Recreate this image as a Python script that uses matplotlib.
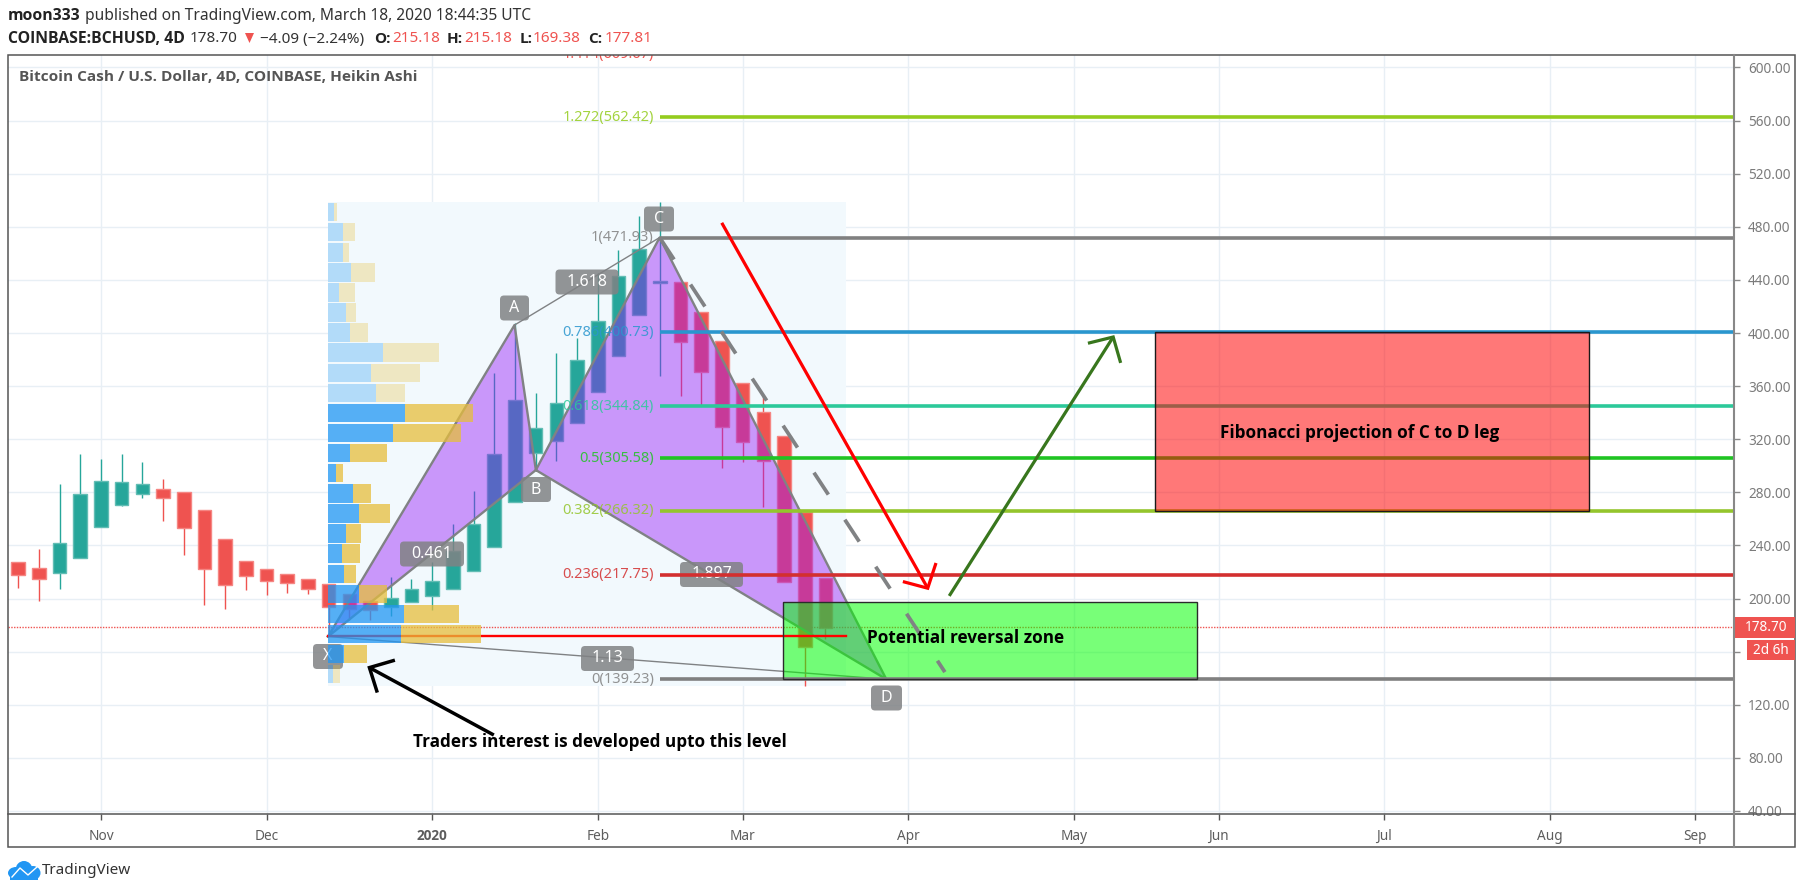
import matplotlib
matplotlib.use("Agg")
import matplotlib.pyplot as plt
from matplotlib.patches import FancyBboxPatch, Rectangle, Polygon, Ellipse

plt.rcParams['font.family'] = ['Noto Sans', 'DejaVu Sans']
BOLD = ['Open Sans', 'DejaVu Sans']

# heikin ashi candles, 4D bars
opens = [227.8, 223.1, 219.0, 230.4, 253.9, 270.8, 278.4, 282.8, 279.9, 266.6,
         245.0, 228.1, 222.4, 218.7, 214.6, 210.9, 203.6, 197.9, 194.0, 197.1,
         201.8, 207.0, 220.8, 238.8, 272.6, 309.5, 319.0, 332.0, 355.9, 382.6,
         413.8, 438.0, 438.8, 416.0, 393.9, 362.2, 340.5, 322.6, 265.4, 215.2]
closes = [217.9, 214.8, 242.2, 278.9, 288.5, 287.5, 286.4, 275.5, 253.1, 221.9,
          210.4, 216.9, 213.3, 211.4, 207.3, 193.5, 192.2, 191.4, 200.8, 207.0,
          213.0, 236.2, 256.5, 308.6, 349.7, 328.4, 347.3, 380.0, 409.3, 443.3,
          463.2, 439.3, 392.9, 371.0, 329.4, 318.0, 303.9, 212.4, 163.3, 177.8]
highs = [227.8, 237.5, 286.4, 308.6, 305.4, 309.1, 302.6, 290.3, 279.9, 266.6,
         245.0, 228.1, 222.4, 218.7, 214.6, 210.9, 203.6, 199.0, 216.6, 214.8,
         227.8, 256.5, 281.2, 369.8, 407.5, 354.8, 385.0, 396.4, 445.0, 462.5,
         488.0, 498.5, 438.8, 416.0, 393.9, 362.2, 352.3, 322.6, 265.4, 215.2]
lows = [208.3, 198.4, 207.5, 230.4, 253.9, 269.8, 275.5, 258.6, 233.0, 195.3,
        192.2, 206.5, 202.6, 204.4, 203.6, 171.9, 183.6, 183.6, 187.0, 197.1,
        191.4, 207.0, 220.8, 238.8, 272.6, 297.0, 303.9, 332.0, 355.9, 382.6,
        413.8, 367.5, 352.3, 346.0, 298.1, 303.2, 269.2, 212.4, 134.0, 169.4]

# volume profile rows
vp_prices = [491.1, 476.0, 460.8, 445.7, 430.6, 415.4, 400.3, 385.2, 370.0, 354.9, 339.8, 324.6,
             309.5, 294.4, 279.2, 264.1, 249.0, 233.8, 218.7, 203.6, 188.4, 173.3, 158.2, 143.0]
vp_buy = [0.27, 0.71, 0.71, 1.10, 0.52, 0.85, 1.05, 2.64, 2.06, 2.30, 3.70, 3.12,
          1.05, 0.37, 1.19, 1.48, 0.85, 0.66, 0.76, 1.48, 3.66, 3.51, 0.76, 0.23]
vp_sell = [0.18, 0.61, 0.29, 1.19, 0.76, 0.52, 0.90, 2.74, 2.40, 1.43, 3.29, 3.32,
           1.79, 0.37, 0.90, 1.53, 0.76, 0.90, 0.61, 1.38, 2.69, 3.86, 1.10, 0.37]
vp_active = [False] * 10 + [True] * 13 + [False]

# XABCD pattern points (bar index, price)
pat_x = [14.97, 23.98, 25.01, 30.99, 41.94]
pat_y = [171.4, 406.0, 296.8, 471.93, 139.23]

# fib levels
fib_levels = [0, 0.236, 0.382, 0.5, 0.618, 0.786, 1, 1.272]
fib_prices = [139.23, 217.75, 266.32, 305.58, 344.84, 400.73, 471.93, 562.42]
fib_colors = ['#808080', '#D32F2F', '#94C52C', '#20C423', '#2CC99A', '#2A96CE', '#808080', '#94CC1E']

month_pos = [4, 12, 20, 28, 35, 43, 51, 58, 66, 74, 81]
month_lab = ['Nov', 'Dec', '2020', 'Feb', 'Mar', 'Apr', 'May', 'Jun', 'Jul', 'Aug', 'Sep']
price_ticks = [40, 80, 120, 160, 200, 240, 280, 320, 360, 400, 440, 480, 520, 560, 600]
price_labs = ['40.00', '80.00', '120.00', '', '200.00', '240.00', '280.00', '320.00', '360.00',
              '400.00', '440.00', '480.00', '520.00', '560.00', '600.00']

GRAY = '#808284'

W, H = 1804, 894
fig = plt.figure(figsize=(W / 100, H / 100), dpi=100, facecolor='white')
ax = fig.add_axes([8 / W, (H - 814) / H, (1734 - 8) / W, (814 - 55) / H], zorder=1)
over = fig.add_axes([0, 0, 1, 1], zorder=2)
over.set_xlim(0, W)
over.set_ylim(H, 0)
over.axis('off')
px = over.transData

ax.set_xlim(-0.49, 82.89)
ax.set_ylim(37.74, 609.4)
for s in ax.spines.values():
    s.set_visible(False)
ax.yaxis.tick_right()
ax.set_yticks(price_ticks)
ax.set_yticklabels(price_labs)
ax.set_xticks(month_pos)
ax.set_xticklabels(month_lab)
year_lab = ax.get_xticklabels()[2]
year_lab.set_family(BOLD)
year_lab.set_fontweight('bold')
ax.tick_params(axis='y', length=4, width=1, color='#8a8a8a', labelcolor='#7b7b7b', labelsize=9.8, pad=6)
ax.tick_params(axis='x', length=4, width=1, color='#555555', labelcolor='#5d5d5d', labelsize=9.8, pad=7)
ax.grid(True, color='#E8EFF5', linewidth=1.0, zorder=0)
ax.set_axisbelow(True)

# volume profile background
ax.add_patch(Rectangle((14.97, 133.8), 40 - 14.97, 499 - 133.8, fc='#F2F9FD', ec='none', zorder=1))

# candles
for i in range(len(opens)):
    up = closes[i] >= opens[i]
    col = '#26A69A' if up else '#EF5350'
    edge = '#62BDB4' if up else '#F58683'
    ax.vlines(i, lows[i], highs[i], color=col, linewidth=1.0, zorder=2)
    ax.bar(i, abs(closes[i] - opens[i]), bottom=min(opens[i], closes[i]), width=0.66,
           color=col, edgecolor=edge, linewidth=1.0, zorder=2.1)

# last price line
ax.axhline(178.7, color='#EF5350', linewidth=1.0, linestyle=(0, (1, 1)), zorder=2.5)

# pattern
for t in ([0, 1, 2], [2, 3, 4]):
    ax.fill([pat_x[k] for k in t], [pat_y[k] for k in t], color='#961AF8', alpha=0.44, lw=0, zorder=4)
    ax.plot([pat_x[k] for k in t + t[:1]], [pat_y[k] for k in t + t[:1]], color=GRAY,
            linewidth=1.7, zorder=4.1, solid_joinstyle='round')
ax.plot([pat_x[1], pat_x[3]], [pat_y[1], pat_y[3]], color=GRAY, linewidth=1.0, zorder=4.1)
ax.plot([pat_x[0], pat_x[4]], [pat_y[0], pat_y[4]], color=GRAY, linewidth=1.0, zorder=4.1)

# boxes from the author
ax.add_patch(Rectangle((36.93, 139.23), 56.96 - 36.93, 197.3 - 139.23, fc='#00FF00', alpha=0.53, ec='none', zorder=4.5))
ax.add_patch(Rectangle((36.93, 139.23), 56.96 - 36.93, 197.3 - 139.23, fc='none', ec='#2b2b2b', lw=1.0, zorder=6))
ax.add_patch(Rectangle((54.93, 266.32), 75.9 - 54.93, 400.73 - 266.32, fc='#FF0000', alpha=0.53, ec='none', zorder=6.5))
ax.add_patch(Rectangle((54.93, 266.32), 75.9 - 54.93, 400.73 - 266.32, fc='none', ec='#1a1a1a', lw=1.0, zorder=6.6))

# POC line
ax.plot([14.97, 40], [171.7, 171.7], color='#FF0000', linewidth=1.7, zorder=4.8)

# pattern labels, the volume profile goes over them
pat_labels = [('X', 328, 656.5, 30), ('A', 514.5, 308, 29), ('B', 536, 489.5, 30), ('C', 659, 219, 30),
              ('D', 886.5, 698, 31), ('0.461', 432, 554, 64), ('1.618', 587, 282, 63),
              ('1.897', 711.5, 574.5, 63), ('1.13', 607.5, 658.5, 53)]
for txt, cx, cy, w in pat_labels:
    ax.add_patch(FancyBboxPatch((cx - w / 2 + 4, cy - 8.5), w - 8, 17, boxstyle='round,pad=4,rounding_size=4',
                                fc=GRAY, ec='none', alpha=0.85, transform=px, zorder=4.85))
    ax.text(cx, cy, txt, color='white', fontsize=11.5, ha='center', va='center', transform=px, zorder=4.86)

# volume profile
for price, b, s, act in zip(vp_prices, vp_buy, vp_sell, vp_active):
    a = 0.75 if act else 0.3
    ax.barh(price, b, left=14.97, height=13.9, color='#2196F3', alpha=a, lw=0, zorder=5)
    ax.barh(price, s, left=14.97 + b, height=13.9, color='#E6BE3C', alpha=a, lw=0, zorder=5)

# fib lines and labels
for lev, price, col in zip(fib_levels, fib_prices, fib_colors):
    ax.plot([30.99, 82.89], [price, price], color=col, linewidth=2.6, solid_capstyle='butt', zorder=5.8)
    ax.text(30.71, price, '%g(%.2f)' % (lev, price), color=col, alpha=0.85, fontsize=10.5,
            ha='right', va='center', zorder=5.9)
ax.text(30.71, 609.67, '1.414(609.67)', color='#EF5350', fontsize=10.5, ha='right', va='center', zorder=5.9, clip_on=True)

# dashed line C to the projection
ax.plot([30.99, 44.77], [471.93, 144.6], color=GRAY, linewidth=2.7, linestyle=(0, (7, 8)), zorder=6.2)


def arrow(x0, y0, x1, y1, h1, h2, col, lw):
    ax.plot([x0, x1], [y0, y1], color=col, linewidth=lw, zorder=7, solid_capstyle='butt')
    ax.plot([h1[0], x1, h2[0]], [h1[1], y1, h2[1]], color=col, linewidth=lw, zorder=7,
            solid_capstyle='butt', solid_joinstyle='miter')


arrow(33.99, 483, 43.94, 207.8, (44.34, 226.8), (42.74, 212.8), '#FF0000', 2.3)
arrow(44.98, 202, 52.9, 397, (51.68, 392.3), (53.26, 377.5), '#38761D', 2.3)
arrow(22.98, 97.2, 16.97, 148, (18.2, 153.6), (17.35, 129.2), '#000000', 2.5)

note_kw = dict(family=BOLD, fontsize=12.3, fontweight='bold', color='black', ha='center', va='center', zorder=8)
ax.text(45.79, 170.5, 'Potential reversal zone', **note_kw)
ax.text(64.8, 325, 'Fibonacci projection of C to D leg', **note_kw)
ax.text(28.1, 92, 'Traders interest is developed upto this level', **note_kw)
ax.text(19, 77, 'Bitcoin Cash / U.S. Dollar, 4D, COINBASE, Heikin Ashi', family=BOLD, fontsize=11.1, fontweight='bold',
        color='#555555', ha='left', va='center', transform=px, zorder=8)

# frame
over.add_patch(Rectangle((8, 55), 1795 - 8, 847 - 55, fc='none', ec='#555555', lw=1.1))
over.plot([8, 1795], [814, 814], color='#555555', linewidth=1.1)
over.plot([1734, 1734], [55, 847], color='#888888', linewidth=1.5)

# price tags
over.add_patch(Rectangle((1734, 617), 61, 21, fc='#EF5350', ec='none'))
over.text(1766, 627.5, '178.70', color='white', fontsize=9.8, ha='center', va='center')
over.add_patch(Rectangle((1747, 639.5), 48, 20.5, fc='#EF5350', ec='none'))
over.text(1771, 650, '2d 6h', color='white', fontsize=9.8, ha='center', va='center')

# header
over.text(8, 16.5, 'moon333', family=BOLD, fontsize=11.3, fontweight='bold', color='#222222', va='center')
over.text(85, 16.5, 'published on TradingView.com, March 18, 2020 18:44:35 UTC', fontsize=11.2, color='#333333', va='center')
over.text(8, 39, 'COINBASE:BCHUSD, 4D', family=BOLD, fontsize=11.3, fontweight='bold', color='#222222', va='center')
over.text(190, 39, '178.70', fontsize=11, color='#333333', va='center')
over.add_patch(Polygon([(245, 33), (254, 33), (249.5, 43)], fc='#EF5350', ec='none'))
over.text(260, 39, '−4.09 (−2.24%)', fontsize=11, color='#333333', va='center')
for x, lab in [(374, 'O:'), (447, 'H:'), (520, 'L:'), (588, 'C:')]:
    over.text(x, 39, lab, family=BOLD, fontsize=11, fontweight='bold', color='#222222', va='center')
for x, val in [(392, '215.18'), (464, '215.18'), (533, '169.38'), (605, '177.81')]:
    over.text(x, 39, val, fontsize=11, color='#EF5350', va='center')

# logo
for cx, cy, ew, eh in [(16, 873, 16, 12), (24, 870, 17, 18), (33, 873, 15, 14)]:
    over.add_patch(Ellipse((cx, cy), ew, eh, fc='#2196F3', ec='none'))
over.add_patch(Rectangle((10, 873), 28, 7, fc='#2196F3', ec='none'))
over.plot([12, 20, 28, 37], [877, 868, 875, 867], color='white', linewidth=1.0)
over.text(42, 870, 'TradingView', fontsize=11, color='#333333', va='center')

fig.savefig('out.png', dpi=100)
